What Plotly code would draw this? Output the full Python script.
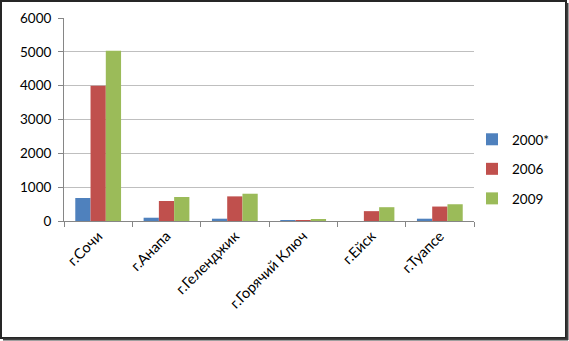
import plotly.graph_objects as go

categories = ["г.Сочи", "г.Анапа", "г.Геленджик", "г.Горячий Ключ", "г.Ейск", "г.Туапсе"]
series_names = ["2000*", "2006", "2009"]
values_2000 = [680, 97, 68, 5, 0, 68]
values_2006 = [4000, 592, 728, 20, 291, 427]
values_2009 = [5030, 709, 806, 48, 408, 495]
colors = ["#4F81BD", "#C0504D", "#9BBB59"]
y_ticks = [0, 1000, 2000, 3000, 4000, 5000, 6000]

W, H = 569, 341
L, R, T, B = 64, 95, 18, 120
pw, ph = W - L - R, H - T - B

fig = go.Figure()
for i, (name, vals) in enumerate(zip(series_names, [values_2000, values_2006, values_2009])):
    fig.add_trace(go.Bar(x=categories, y=vals, name=name, marker_color=colors[i],
                         marker_line_width=0, legendgroup=name))

def px_x(p):
    return (p - L) / pw

def px_y(p):
    return (H - B - p) / ph

fig.update_layout(
    width=W, height=H,
    margin=dict(l=L, r=R, t=T, b=B, autoexpand=False),
    paper_bgcolor="white", plot_bgcolor="white",
    font=dict(family="Lato, Liberation Sans, sans-serif", size=13, color="#000000"),
    barmode="group", bargap=0.33, bargroupgap=0,
    showlegend=True,
    legend=dict(x=px_x(472), y=px_y(124), xanchor="left", yanchor="top",
                font=dict(size=13.5), tracegroupgap=9, traceorder="grouped",
                itemwidth=30, bgcolor="rgba(0,0,0,0)"),
    xaxis=dict(showline=True, linecolor="#868686", linewidth=1, automargin=False,
               ticks="outside", tickson="boundaries", ticklen=5, tickcolor="#868686",
               tickangle=-45, tickfont=dict(size=14.5), showgrid=False),
    yaxis=dict(range=[0, 6000], tickvals=y_ticks, showline=True, linecolor="#868686",
               linewidth=1, ticks="outside", ticklen=5, tickcolor="#868686",
               gridcolor="#BFBFBF", gridwidth=1, zeroline=False, automargin=False,
               ticklabelstandoff=4, tickfont=dict(size=13.5)),
    shapes=[
        dict(type="rect", xref="paper", yref="paper",
             x0=px_x(1), x1=px_x(566), y0=px_y(1), y1=px_y(338),
             line=dict(color="#262626", width=2), layer="above"),
        dict(type="line", xref="paper", yref="paper",
             x0=px_x(567.5), x1=px_x(567.5), y0=px_y(3), y1=px_y(340),
             line=dict(color="#404040", width=2), layer="above"),
        dict(type="line", xref="paper", yref="paper",
             x0=px_x(3), x1=px_x(568), y0=px_y(339.5), y1=px_y(339.5),
             line=dict(color="#404040", width=2), layer="above"),
    ],
)

fig.write_html("out.html", config={"displayModeBar": False},
               post_script="document.body.style.margin='0';document.body.style.overflow='hidden';")
